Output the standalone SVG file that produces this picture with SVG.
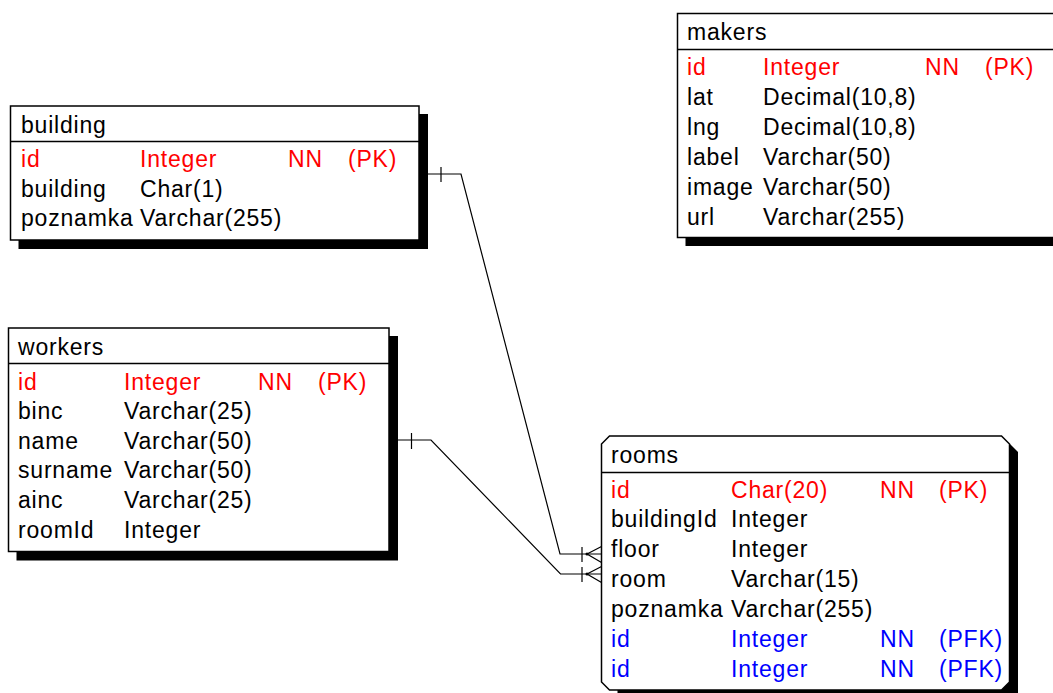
<svg xmlns="http://www.w3.org/2000/svg" width="1053" height="693" viewBox="0 0 1053 693">
<style>
.box{fill:#fff;stroke:#000;stroke-width:1.5}
.sh{fill:#000}
.div{stroke:#000;stroke-width:1.5}
text{font-family:"Liberation Sans",Arial,sans-serif;font-size:23px;letter-spacing:0.8px;fill:#000}
.pk{fill:#ff0000}
.fk{fill:#0000ff}
.con{fill:none;stroke:#000;stroke-width:1.2}
</style>
<rect width="1053" height="693" fill="#fff"/>
<g id="building">
<rect class="sh" x="18.5" y="114" width="409.5" height="135"/>
<rect class="box" x="10.5" y="106" width="408.5" height="134"/>
<line class="div" x1="10.5" y1="141.5" x2="419" y2="141.5"/>
<text x="21" y="133">building</text>
<g class="pk"><text class="pk" x="21" y="167">id</text><text class="pk" x="140" y="167">Integer</text><text class="pk" x="288" y="167">NN</text><text class="pk" x="348" y="167">(PK)</text></g>
<text x="21" y="197">building</text><text x="140" y="197">Char(1)</text>
<text x="21" y="226">poznamka</text><text x="140" y="226">Varchar(255)</text>
</g>
<g id="workers">
<rect class="sh" x="16.5" y="336" width="381.5" height="224.5"/>
<rect class="box" x="8.5" y="328" width="380.5" height="223.5"/>
<line class="div" x1="8.5" y1="363.5" x2="389" y2="363.5"/>
<text x="18" y="355">workers</text>
<text class="pk" x="18" y="390">id</text><text class="pk" x="124" y="390">Integer</text><text class="pk" x="258" y="390">NN</text><text class="pk" x="318" y="390">(PK)</text>
<text x="18" y="419">binc</text><text x="124" y="419">Varchar(25)</text>
<text x="18" y="449">name</text><text x="124" y="449">Varchar(50)</text>
<text x="18" y="478">surname</text><text x="124" y="478">Varchar(50)</text>
<text x="18" y="508">ainc</text><text x="124" y="508">Varchar(25)</text>
<text x="18" y="538">roomId</text><text x="124" y="538">Integer</text>
</g>
<g id="makers">
<rect class="sh" x="685.5" y="21.5" width="400" height="224.5"/>
<rect class="box" x="677.5" y="13.5" width="400" height="224"/>
<line class="div" x1="677.5" y1="49.5" x2="1077" y2="49.5"/>
<text x="687" y="40">makers</text>
<text class="pk" x="687" y="75">id</text><text class="pk" x="763" y="75">Integer</text><text class="pk" x="925" y="75">NN</text><text class="pk" x="985" y="75">(PK)</text>
<text x="687" y="105">lat</text><text x="763" y="105">Decimal(10,8)</text>
<text x="687" y="135">lng</text><text x="763" y="135">Decimal(10,8)</text>
<text x="687" y="165">label</text><text x="763" y="165">Varchar(50)</text>
<text x="687" y="195">image</text><text x="763" y="195">Varchar(50)</text>
<text x="687" y="225">url</text><text x="763" y="225">Varchar(255)</text>
</g>
<g id="rooms">
<path class="sh" d="M617.5 444 H1010 L1018 452 V700 H617.5 Z"/>
<path class="box" d="M609.5 436 H1001.5 L1009.5 444 V682 L1001.5 690 H609.5 L601.5 682 V444 Z"/>
<line class="div" x1="601.5" y1="472.5" x2="1009.5" y2="472.5"/>
<text x="611" y="463">rooms</text>
<text class="pk" x="611" y="498">id</text><text class="pk" x="731" y="498">Char(20)</text><text class="pk" x="880" y="498">NN</text><text class="pk" x="939" y="498">(PK)</text>
<text x="611" y="527">buildingId</text><text x="731" y="527">Integer</text>
<text x="611" y="557">floor</text><text x="731" y="557">Integer</text>
<text x="611" y="587">room</text><text x="731" y="587">Varchar(15)</text>
<text x="611" y="617">poznamka</text><text x="731" y="617">Varchar(255)</text>
<text class="fk" x="611" y="647">id</text><text class="fk" x="731" y="647">Integer</text><text class="fk" x="880" y="647">NN</text><text class="fk" x="939" y="647">(PFK)</text>
<text class="fk" x="611" y="677">id</text><text class="fk" x="731" y="677">Integer</text><text class="fk" x="880" y="677">NN</text><text class="fk" x="939" y="677">(PFK)</text>
</g>
<g id="connectors">
<g id="building-rooms">
<polyline class="con" points="419,174 461,174 560,554 601.5,554"/>
<line class="con" x1="441" y1="167" x2="441" y2="182"/>
<line class="con" x1="582" y1="547" x2="582" y2="562"/>
<circle cx="587" cy="554" r="1.5" fill="#000"/>
<polyline class="con" points="601.5,546.5 587,554 601.5,562.5"/>
</g>
<g id="workers-rooms">
<polyline class="con" points="389,440 431,440 560.5,574 601.5,574"/>
<line class="con" x1="411.5" y1="433" x2="411.5" y2="449"/>
<line class="con" x1="582" y1="567" x2="582" y2="582"/>
<circle cx="587" cy="574" r="1.5" fill="#000"/>
<polyline class="con" points="601.5,566.5 587,574 601.5,582.5"/>
</g>
</g>
</svg>
